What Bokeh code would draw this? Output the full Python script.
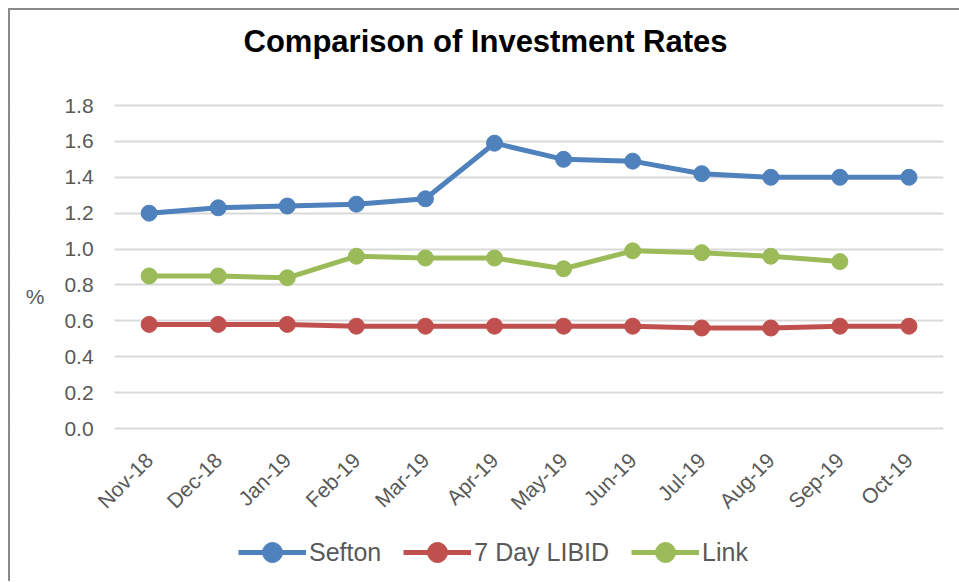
from bokeh.plotting import figure
from bokeh.models import (Range1d, FixedTicker, NumeralTickFormatter, Legend, LegendItem,
                          Title, BoxAnnotation)
from bokeh.embed import file_html
from bokeh.resources import INLINE
import math

categories = ["Nov-18", "Dec-18", "Jan-19", "Feb-19", "Mar-19", "Apr-19",
              "May-19", "Jun-19", "Jul-19", "Aug-19", "Sep-19", "Oct-19"]
sefton = [1.20, 1.23, 1.24, 1.25, 1.28, 1.59, 1.50, 1.49, 1.42, 1.40, 1.40, 1.40]
libid = [0.58, 0.58, 0.58, 0.57, 0.57, 0.57, 0.57, 0.57, 0.56, 0.56, 0.57, 0.57]
link = [0.85, 0.85, 0.84, 0.96, 0.95, 0.95, 0.89, 0.99, 0.98, 0.96, 0.93]
y_ticks = [0.0, 0.2, 0.4, 0.6, 0.8, 1.0, 1.2, 1.4, 1.6, 1.8]

FONT = "Liberation Sans"
GREY = "#595959"

# layout: the frame covers the whole chart area; axes are pinned inside it
BAND = 69.0                       # px per category
LEFT_EXTRA = 99 / BAND            # room left of the first category for the y labels
FRAME_W = 928
PX_PER_UNIT = 323 / 1.8
TOP_EXTRA = 12                    # px above the 1.8 grid line
FRAME_H = 476 + TOP_EXTRA
y_end = 1.8 + TOP_EXTRA / PX_PER_UNIT
y_start = y_end - FRAME_H / PX_PER_UNIT
n = len(categories)
xpos = list(range(n))

p = figure(x_range=Range1d(-0.5 - LEFT_EXTRA, n - 0.5), y_range=Range1d(y_start, y_end),
           frame_width=FRAME_W, frame_height=FRAME_H, output_backend="svg",
           toolbar_location=None,
           min_border_left=5, min_border_right=16, min_border_top=95 - TOP_EXTRA,
           min_border_bottom=0,
           styles={"border-left": "2px solid #898989", "border-top": "2px solid #898989",
                   "margin-left": "8px", "margin-top": "8px"})
p.outline_line_color = None
p.xgrid.grid_line_color = None
p.ygrid.grid_line_color = "#D9D9D9"
p.ygrid.grid_line_width = 2
p.ygrid.ticker = FixedTicker(ticks=y_ticks)

# white cover so the horizontal grid lines start at the first category band
p.add_layout(BoxAnnotation(right=-0.5, fill_color="white", fill_alpha=1.0,
                           line_color=None, level="glyph"))

p.yaxis.ticker = FixedTicker(ticks=y_ticks)
p.yaxis.formatter = NumeralTickFormatter(format="0.0")
p.yaxis.fixed_location = -0.5
p.xaxis.ticker = FixedTicker(ticks=xpos)
p.xaxis.major_label_overrides = {i: c for i, c in enumerate(categories)}
p.xaxis.fixed_location = 0
for ax in (p.xaxis, p.yaxis):
    ax.axis_line_color = None
    ax.major_tick_line_color = None
    ax.minor_tick_line_color = None
    ax.major_tick_out = 0
    ax.major_tick_in = 0
    ax.major_label_text_font = FONT
    ax.major_label_text_font_size = "21px"
    ax.major_label_text_color = GREY
p.yaxis.major_label_standoff = 21
p.xaxis.major_label_standoff = 28
p.xaxis.major_label_orientation = math.pi / 4

p.yaxis.axis_label = "%\n\n\n"
p.yaxis.axis_label_orientation = "horizontal"
p.yaxis.axis_label_standoff = 17
p.yaxis.axis_label_text_font = FONT
p.yaxis.axis_label_text_font_size = "21px"
p.yaxis.axis_label_text_font_style = "normal"
p.yaxis.axis_label_text_color = GREY

series = [("Sefton", sefton, "#4F81BD"),
          ("7 Day LIBID", libid, "#C0504D"),
          ("Link", link, "#9BBB59")]
items = []
for name, vals, col in series:
    xs = xpos[:len(vals)]
    l = p.line(xs, vals, line_color=col, line_width=5)
    s = p.scatter(xs, vals, size=16, fill_color=col, line_color=col)
    items.append(LegendItem(label=name, renderers=[l, s]))

legend = Legend(items=items, orientation="horizontal", location=(223, 4),
                label_text_font=FONT, label_text_font_size="25px",
                label_text_color=GREY, glyph_width=68, glyph_height=50,
                label_standoff=3, spacing=22, padding=0, margin=0,
                border_line_color=None, background_fill_color=None)
p.add_layout(legend, "center")

p.title = Title(text="Comparison of Investment Rates\n", text_font=FONT,
                text_font_size="31px", text_font_style="bold", text_color="#000000",
                align="left", offset=228, standoff=0)

open("out.html", "w").write(file_html(p, INLINE))
